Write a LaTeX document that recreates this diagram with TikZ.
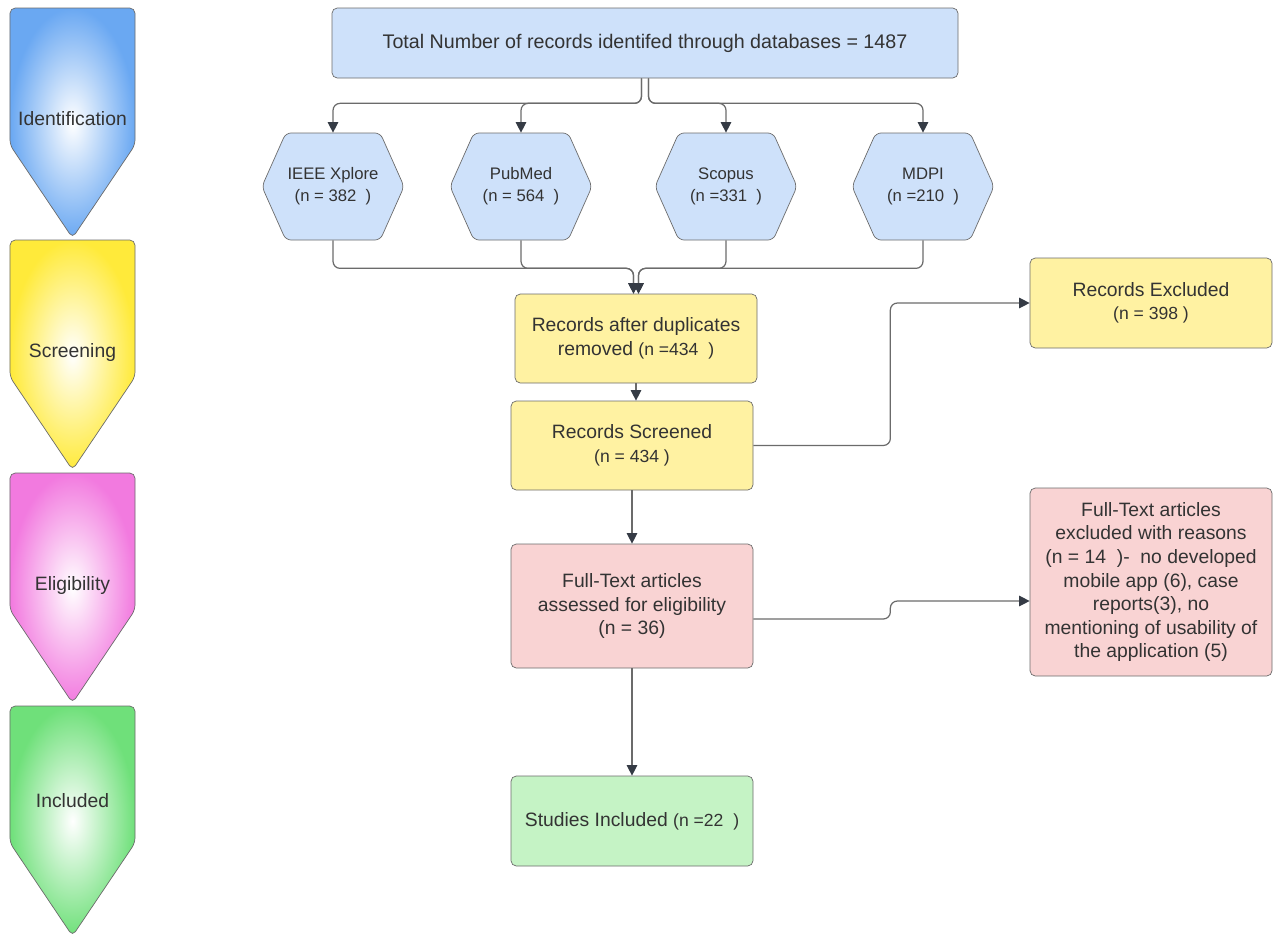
\documentclass[tikz,border=0pt]{standalone}
\usepackage{fontspec}
\setmainfont{Liberation Sans}
\usetikzlibrary{arrows.meta,shapes.symbols}

\definecolor{txtgray}{HTML}{333333}
\definecolor{linegray}{HTML}{6B6B6B}
\definecolor{tipgray}{HTML}{353B45}
\definecolor{boxblue}{HTML}{CEE1FA}
\definecolor{boxyellow}{HTML}{FFF2A2}
\definecolor{boxpink}{HTML}{F9D3D3}
\definecolor{boxgreen}{HTML}{C5F3C5}
\definecolor{bnrblue}{HTML}{6AA8F2}
\definecolor{bnryellow}{HTML}{FFEA3A}
\definecolor{bnrpink}{HTML}{F27ADF}
\definecolor{bnrgreen}{HTML}{6FE07A}

\begin{document}
\begin{tikzpicture}[
	box/.style={draw=linegray, rounded corners=3pt, align=center, text=txtgray, inner sep=2pt, font=\fontsize{11}{13.4}\selectfont},
	hexa/.style={signal, signal to=west and east, signal pointer angle=132, minimum width=2.84cm, minimum height=2.14cm, draw=linegray, fill=boxblue, rounded corners=3pt, align=center, text=txtgray, inner sep=1pt, font=\fontsize{9.5}{12.5}\selectfont},
	bnrtext/.style={text=txtgray, font=\fontsize{11}{13}\selectfont},
	conn/.style={draw=linegray, line width=0.7pt, rounded corners=4pt},
	arr/.style={conn, -{Triangle[length=6pt,width=6pt,color=tipgray]}}
	]
			\useasboundingbox (0,0) rectangle (25.6,-18.76);
			%%%%%%%%%%%%%%%%%%%%%%%%%%%%%%%% stage banners
			\shade[draw=linegray, inner color=white, outer color=bnrblue, rounded corners=3pt] (0.2,-0.16)--(2.7,-0.16)--(2.7,-2.90)--(1.45,-4.76)--(0.2,-2.90)--cycle;
			\node[bnrtext] (idf) at (1.45,-2.38){Identification};
			\shade[draw=linegray, inner color=white, outer color=bnryellow, rounded corners=3pt] (0.2,-4.8)--(2.7,-4.8)--(2.7,-7.54)--(1.45,-9.4)--(0.2,-7.54)--cycle;
			\node[bnrtext] (scrn) at (1.45,-7.04){Screening};
			\shade[draw=linegray, inner color=white, outer color=bnrpink, rounded corners=3pt] (0.2,-9.46)--(2.7,-9.46)--(2.7,-12.2)--(1.45,-14.06)--(0.2,-12.2)--cycle;
			\node[bnrtext] (elig) at (1.45,-11.7){Eligibility};
			\shade[draw=linegray, inner color=white, outer color=bnrgreen, rounded corners=3pt] (0.2,-14.12)--(2.7,-14.12)--(2.7,-16.86)--(1.45,-18.72)--(0.2,-16.86)--cycle;
			\node[bnrtext] (incl) at (1.45,-16.02){Included};
			%%%%%%%%%%%%%%%%%%%%%%%%%%%%%%%% identification
			\node[box, fill=boxblue, minimum width=12.52cm, minimum height=1.4cm, font=\fontsize{11.2}{13.4}\selectfont] (top) at (12.9,-0.86){Total Number of records identifed through databases = 1487};
			\node[hexa] (ieee) at (6.66,-3.73){IEEE Xplore\\(n = 382~~)};
			\node[hexa] (pubmed) at (10.42,-3.73){PubMed\\(n = 564~~)};
			\node[hexa] (scopus) at (14.52,-3.73){Scopus\\(n =331~~)};
			\node[hexa] (mdpi) at (18.46,-3.73){MDPI\\(n =210~~)};
			%%%%%%%%%%%%%%%%%%%%%%%%%%%%%%%% screening
			\node[box, fill=boxyellow, minimum width=4.84cm, minimum height=1.78cm] (dup) at (12.72,-6.77){Records after duplicates\\removed {\fontsize{10}{13}\selectfont(n =434~~)}};
			\node[box, fill=boxyellow, minimum width=4.84cm, minimum height=1.78cm] (scr) at (12.64,-8.91){Records Screened\\{\fontsize{10}{13}\selectfont(n = 434 )}};
			\node[box, fill=boxyellow, minimum width=4.84cm, minimum height=1.8cm] (exc) at (23.02,-6.06){Records Excluded\\{\fontsize{10}{13}\selectfont(n = 398 )}};
			%%%%%%%%%%%%%%%%%%%%%%%%%%%%%%%% eligibility
			\node[box, fill=boxpink, minimum width=4.84cm, minimum height=2.48cm] (full) at (12.64,-12.12){Full-Text articles\\assessed for eligibility\\(n = 36)};
			\node[box, fill=boxpink, minimum width=4.84cm, minimum height=3.76cm] (rsn) at (23.02,-11.64){Full-Text articles\\excluded with reasons\\(n = 14~~)-~~no developed\\mobile app (6), case\\reports(3), no\\mentioning of usability of\\the application (5)};
			%%%%%%%%%%%%%%%%%%%%%%%%%%%%%%%% included
			\node[box, fill=boxgreen, minimum width=4.84cm, minimum height=1.8cm] (inc) at (12.64,-16.42){Studies Included {\fontsize{10}{13}\selectfont(n =22~~)}};
			%%%%%%%%%%%%%%%%%%%%%%%%%%%%%%%% connectors
			\draw[arr] ([xshift=-0.07cm]top.south)--++(0,-0.5)-|(ieee.north);
			\draw[arr] ([xshift=-0.07cm]top.south)--++(0,-0.5)-|(pubmed.north);
			\draw[arr] ([xshift=0.07cm]top.south)--++(0,-0.5)-|(scopus.north);
			\draw[arr] ([xshift=0.07cm]top.south)--++(0,-0.5)-|(mdpi.north);
			\draw[arr] (ieee.south)--++(0,-0.56)-|([xshift=-0.05cm]dup.north);
			\draw[arr] (pubmed.south)--++(0,-0.56)-|([xshift=-0.05cm]dup.north);
			\draw[arr] (scopus.south)--++(0,-0.56)-|([xshift=0.05cm]dup.north);
			\draw[arr] (mdpi.south)--++(0,-0.56)-|([xshift=0.05cm]dup.north);
			\draw[arr] (dup.south)--(dup.south |- scr.north);
			\draw[arr] (scr.east)--++(2.74,0)|-(exc.west);
			\draw[arr] (scr.south)--(full.north);
			\draw[arr] ([yshift=-0.26cm]full.east)--++(2.74,0)|-([yshift=-0.38cm]rsn.west);
			\draw[arr] (full.south)--(inc.north);
		\end{tikzpicture}
\end{document}
